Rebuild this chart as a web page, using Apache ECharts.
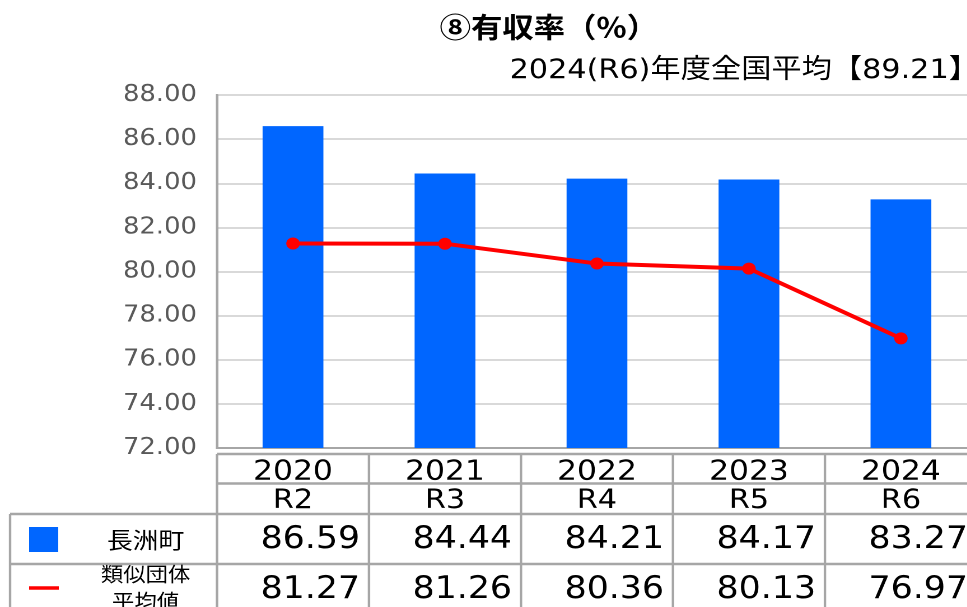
<!DOCTYPE html>
<html>
<head>
<meta charset="utf-8">
<script src="https://cdn.jsdelivr.net/npm/echarts@6/dist/echarts.min.js"></script>
<style>
  html, body { margin: 0; padding: 0; background: #fff; overflow: hidden; }
  /* 元画像は横に約1.12倍伸びているので、描画領域ごと伸ばす */
  #chart { width: 864px; height: 607px; transform: scaleX(1.12); transform-origin: 0 0; }
</style>
</head>
<body>
<div id="chart"></div>
<script>
// 年度
const years = ['2020', '2021', '2022', '2023', '2024'];
const reiwa = ['R2', 'R3', 'R4', 'R5', 'R6'];
// 有収率（%）
const townRates = [86.59, 84.44, 84.21, 84.17, 83.27];
const groupAvg = [81.27, 81.26, 80.36, 80.13, 76.97];
const seriesNames = ['長洲町', '類似団体\n平均値'];
const titleText = '⑧有収率（%）';
const subtitleText = '2024(R6)年度全国平均【89.21】';
const yMin = 72, yMax = 88, yStep = 2;

const GRID_LEFT = 193.75;
const GRID_TOP = 95;
const GRID_H = 353;
const CAT_W = 135.7;
const LINE_C = '#a6a6a6';
const NUM_FONT = 'DejaVu Sans';
const JP_FONT = 'DejaVu Sans, Noto Sans CJK JP';

const chart = echarts.init(document.getElementById('chart'), null, { devicePixelRatio: 2 });

chart.setOption({
  animation: false,
  grid: {
    left: GRID_LEFT,
    top: GRID_TOP,
    width: CAT_W * years.length,
    height: GRID_H,
    outerBoundsMode: 'none',
    show: true,
    borderColor: LINE_C,
    borderWidth: 2
  },
  xAxis: {
    type: 'category',
    data: years,
    axisLine: { lineStyle: { color: LINE_C, width: 2 } },
    axisTick: { show: false },
    axisLabel: { show: false }
  },
  yAxis: {
    type: 'value',
    min: yMin,
    max: yMax,
    interval: yStep,
    axisLine: { show: true, lineStyle: { color: LINE_C, width: 2 } },
    axisTick: { show: false },
    splitLine: { lineStyle: { color: '#d9d9d9', width: 2 } },
    axisLabel: {
      margin: 18,
      color: '#595959',
      fontFamily: NUM_FONT,
      fontSize: 23,
      formatter: v => v.toFixed(2)
    }
  },
  series: [
    {
      name: seriesNames[0],
      type: 'bar',
      data: townRates,
      barWidth: '40%',
      itemStyle: { color: '#0066ff' }
    },
    {
      name: seriesNames[1],
      type: 'line',
      data: groupAvg,
      symbol: 'circle',
      symbolSize: 12,
      lineStyle: { color: '#ff0000', width: 4 },
      itemStyle: { color: '#ff0000' }
    }
  ]
});

// データテーブル（グラフ下の表）
function buildTable() {
  const els = [];
  const centers = years.map((y, i) => chart.convertToPixel({ xAxisIndex: 0 }, i));
  const right = GRID_LEFT + CAT_W * years.length;
  const hLine = (x1, x2, y) => els.push({
    type: 'line', shape: { x1, y1: y, x2, y2: y },
    style: { stroke: LINE_C, lineWidth: 2.5 }
  });
  const vLine = (x, y1, y2) => els.push({
    type: 'line', shape: { x1: x, y1, x2: x, y2 },
    style: { stroke: LINE_C, lineWidth: 2.2 }
  });
  const text = (t, x, y, size, align, font, extra) => els.push({
    type: 'text', x, y,
    style: Object.assign({
      text: t, fontSize: size, fontFamily: font, fill: '#000',
      align: align, verticalAlign: 'middle'
    }, extra || {})
  });

  hLine(GRID_LEFT, right, 454);
  hLine(GRID_LEFT, right, 483.5);
  hLine(9, right, 514);
  hLine(9, right, 564);
  vLine(9, 514, 620);
  vLine(GRID_LEFT, 454, 620);
  centers.forEach(c => vLine(c + CAT_W / 2, 454, 620));

  centers.forEach((c, i) => {
    text(years[i], c, 472, 28, 'center', NUM_FONT);
    text(reiwa[i], c, 501, 27, 'center', NUM_FONT);
    text(townRates[i].toFixed(2), c + CAT_W / 2 - 8, 540, 31, 'right', NUM_FONT);
    text(groupAvg[i].toFixed(2), c + CAT_W / 2 - 8, 590, 31, 'right', NUM_FONT);
  });

  // 凡例
  els.push({ type: 'rect', shape: { x: 26, y: 527, width: 26, height: 25 }, style: { fill: '#0066ff' } });
  els.push({ type: 'line', shape: { x1: 26, y1: 588, x2: 52.5, y2: 588 }, style: { stroke: '#ff0000', lineWidth: 3.5 } });
  text(seriesNames[0], 130, 540, 23, 'center', 'Noto Sans CJK JP');
  const lines = seriesNames[1].split('\n');
  text(lines[0], 130, 574, 20, 'center', 'Noto Sans CJK JP');
  text(lines[1], 130, 601, 20, 'center', 'Noto Sans CJK JP');

  // タイトル
  text(titleText, 490, 27, 28, 'center', 'Noto Sans CJK JP', { fontWeight: 'bold' });
  text(subtitleText, 455, 71, 27, 'left', JP_FONT);

  chart.setOption({ graphic: { elements: els } });
}
buildTable();
</script>
</body>
</html>
